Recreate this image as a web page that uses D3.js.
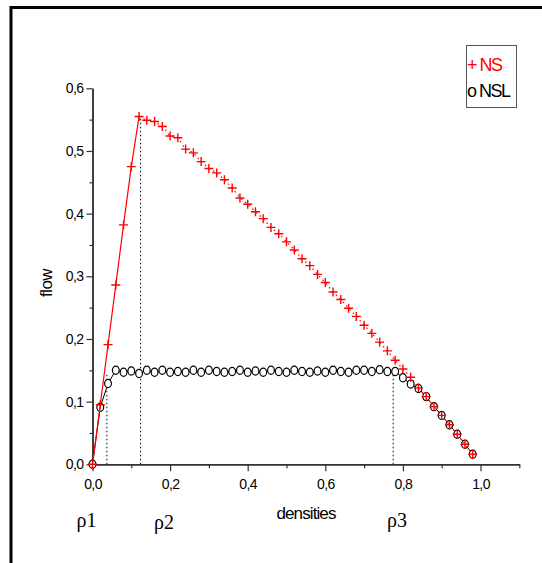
<!DOCTYPE html>
<html>
<head>
<meta charset="utf-8">
<script src="https://cdn.jsdelivr.net/npm/d3@7"></script>
<style>
        body { margin: 0; background: #fff; }
        svg { display: block; }
</style>
</head>
<body>
<svg id="chart" width="542" height="563"></svg>
<script>
// flow vs density, NS and NSL models

const densities = [0.00, 0.02, 0.04, 0.06, 0.08, 0.10, 0.12, 0.14, 0.16, 0.18,
        0.20, 0.22, 0.24, 0.26, 0.28, 0.30, 0.32, 0.34, 0.36, 0.38,
        0.40, 0.42, 0.44, 0.46, 0.48, 0.50, 0.52, 0.54, 0.56, 0.58,
        0.60, 0.62, 0.64, 0.66, 0.68, 0.70, 0.72, 0.74, 0.76, 0.78,
        0.80, 0.82, 0.84, 0.86, 0.88, 0.90, 0.92, 0.94, 0.96, 0.98];

const flowNS = [0.000, 0.095, 0.191, 0.286, 0.382, 0.475, 0.555, 0.549, 0.547, 0.539,
        0.524, 0.521, 0.503, 0.497, 0.483, 0.472, 0.465, 0.454, 0.441, 0.425,
        0.415, 0.403, 0.392, 0.378, 0.368, 0.355, 0.342, 0.328, 0.317, 0.303,
        0.290, 0.275, 0.263, 0.249, 0.236, 0.222, 0.209, 0.195, 0.181, 0.166,
        0.152, 0.139, 0.122, 0.108, 0.092, 0.078, 0.063, 0.048, 0.032, 0.016];

const flowNSL = [0.000, 0.091, 0.129, 0.150, 0.147, 0.149, 0.145, 0.150, 0.147, 0.150,
        0.147, 0.148, 0.147, 0.150, 0.147, 0.150, 0.148, 0.147, 0.148, 0.150,
        0.147, 0.149, 0.147, 0.150, 0.148, 0.147, 0.150, 0.148, 0.147, 0.149,
        0.147, 0.150, 0.148, 0.147, 0.150, 0.150, 0.148, 0.151, 0.148, 0.148,
        0.138, 0.128, 0.121, 0.108, 0.092, 0.078, 0.063, 0.048, 0.032, 0.016];

// critical densities: [x, top flow]
const markers = [[0.037, 0.146], [0.124, 0.555], [0.775, 0.147]];
const rhoLabels = [["ρ1", 0.0], ["ρ2", 0.2], ["ρ3", 0.8]];

const xMajor = [0.0, 0.2, 0.4, 0.6, 0.8, 1.0];
const xMinor = [0.1, 0.3, 0.5, 0.7, 0.9, 1.1];
const yMajor = [0.0, 0.1, 0.2, 0.3, 0.4, 0.5, 0.6];
const yMinor = [0.05, 0.15, 0.25, 0.35, 0.45, 0.55];

const svg = d3.select("#chart");
const font = "'Liberation Sans', Arial, sans-serif";
const axisColour = "#333";

const x = d3.scaleLinear().domain([0, 1.1]).range([92.5, 519.3]);
const y = d3.scaleLinear().domain([0, 0.6]).range([464.3, 88.3]);
const fmt = d => d3.format(".1f")(d).replace(".", ",");

// outer frame (top and left only)
svg.append("path")
        .attr("d", "M11,563 V7.5 H542")
        .attr("fill", "none")
        .attr("stroke", "#000")
        .attr("stroke-width", 3);

// axes
function styleAxis(g) {
        g.select(".domain").attr("stroke", axisColour).attr("stroke-width", 1.5);
        g.selectAll(".tick line").attr("stroke", axisColour).attr("stroke-width", 1.2);
        g.selectAll(".tick text").attr("fill", "#000")
                .style("font-family", font).style("font-size", "14px")
                .style("letter-spacing", "-0.6px");
}

svg.append("g")
        .attr("transform", "translate(0," + y(0) + ")")
        .call(d3.axisBottom(x).tickValues(xMinor).tickSize(4).tickFormat("").tickSizeOuter(0))
        .call(styleAxis);
svg.append("g")
        .attr("transform", "translate(0," + y(0) + ")")
        .call(d3.axisBottom(x).tickValues(xMajor).tickSize(7).tickPadding(8).tickFormat(fmt).tickSizeOuter(0))
        .call(styleAxis);

svg.append("g")
        .attr("transform", "translate(" + x(0) + ",0)")
        .call(d3.axisLeft(y).tickValues(yMinor).tickSize(3).tickFormat("").tickSizeOuter(0))
        .call(styleAxis);
svg.append("g")
        .attr("transform", "translate(" + x(0) + ",0)")
        .call(d3.axisLeft(y).tickValues(yMajor).tickSize(6).tickPadding(3).tickFormat(fmt).tickSizeOuter(0))
        .call(styleAxis);

// axis titles
svg.append("text")
        .attr("x", 306).attr("y", 519)
        .attr("text-anchor", "middle")
        .style("font-family", font).style("font-size", "17px")
        .style("letter-spacing", "-0.9px")
        .text("densities");

svg.append("text")
        .attr("transform", "translate(52,283) rotate(-90)")
        .attr("text-anchor", "middle")
        .style("font-family", font).style("font-size", "17px")
        .style("letter-spacing", "-0.5px")
        .text("flow");

// rho labels below axis
svg.selectAll(".rho")
        .data(rhoLabels)
        .enter().append("text")
        .attr("class", "rho")
        .attr("x", d => x(d[1]) - 6)
        .attr("y", (d, i) => i == 1 ? 529 : 526.5)
        .attr("text-anchor", "middle")
        .style("font-family", "'Liberation Serif', 'Times New Roman', serif")
        .style("font-size", "20px")
        .text(d => d[0]);

// dotted markers for critical densities
svg.selectAll(".crit")
        .data(markers)
        .enter().append("line")
        .attr("class", "crit")
        .attr("x1", d => x(d[0])).attr("x2", d => x(d[0]))
        .attr("y1", y(0)).attr("y2", d => y(d[1]))
        .attr("stroke", "#000")
        .attr("stroke-width", 1)
        .attr("stroke-dasharray", "1.5,2.5");

const pts = (vals) => densities.map((d, i) => [d, vals[i]]);
const line = d3.line().x(d => x(d[0])).y(d => y(d[1]));

// NSL: black line, open circles
const nsl = pts(flowNSL);
svg.append("path")
        .attr("d", line(nsl))
        .attr("fill", "none")
        .attr("stroke", "#000")
        .attr("stroke-width", 1);
svg.selectAll(".nsl")
        .data(nsl)
        .enter().append("ellipse")
        .attr("class", "nsl")
        .attr("cx", d => x(d[0]))
        .attr("cy", d => y(d[1]))
        .attr("rx", 3.4).attr("ry", 4.1)
        .attr("fill", "#fff")
        .attr("stroke", "#000")
        .attr("stroke-width", 1.2);

// NS: red solid rise to peak, dotted after, plus markers
const ns = pts(flowNS);
const peak = flowNS.indexOf(d3.max(flowNS));
svg.append("path")
        .attr("d", line(ns.slice(0, peak + 1)))
        .attr("fill", "none")
        .attr("stroke", "red")
        .attr("stroke-width", 1.2);
svg.append("path")
        .attr("d", line(ns.slice(peak)))
        .attr("fill", "none")
        .attr("stroke", "red")
        .attr("stroke-width", 1.2)
        .attr("stroke-dasharray", "1.5,3.5");

const arm = 4.5;
svg.selectAll(".ns")
        .data(ns)
        .enter().append("path")
        .attr("class", "ns")
        .attr("d", d => {
                const cx = x(d[0]), cy = y(d[1]);
                return "M" + (cx - arm) + "," + cy + "H" + (cx + arm) +
                        "M" + cx + "," + (cy - arm) + "V" + (cy + arm);
        })
        .attr("stroke", "red")
        .attr("stroke-width", 1.4);

// legend
svg.append("rect")
        .attr("x", 466.5).attr("y", 45.5)
        .attr("width", 50).attr("height", 62)
        .attr("fill", "#fff")
        .attr("stroke", "#555")
        .attr("stroke-width", 1);
svg.append("text")
        .attr("x", 467).attr("y", 71)
        .attr("fill", "red")
        .style("font-family", font).style("font-size", "18px")
        .style("letter-spacing", "-1.5px")
        .text("+ NS");
svg.append("text")
        .attr("x", 467).attr("y", 96.5)
        .attr("fill", "#000")
        .style("font-family", font).style("font-size", "18px")
        .style("letter-spacing", "-1.5px")
        .text("o NSL");
</script>
</body>
</html>
